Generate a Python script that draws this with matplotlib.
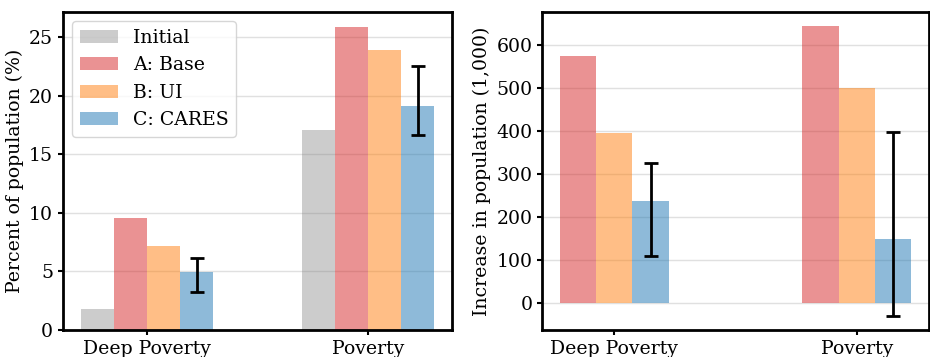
import matplotlib
matplotlib.use("Agg")
import matplotlib.pyplot as plt
import numpy as np

plt.rcParams['font.family'] = 'DejaVu Serif'
plt.rcParams['font.size'] = 13.6

groups = ['Deep Poverty', 'Poverty']

# left panel: percent of population
pct_initial = [1.8, 17.05]
pct_base = [9.55, 25.85]
pct_ui = [7.13, 23.9]
pct_cares = [4.96, 19.1]
pct_cares_lo = [3.25, 16.68]
pct_cares_hi = [6.18, 22.5]

# right panel: increase in population (1,000)
inc_base = [573, 642]
inc_ui = [395, 499]
inc_cares = [236, 148]
inc_cares_lo = [109, -29]
inc_cares_hi = [325, 397]

labels = ['Initial', 'A: Base', 'B: UI', 'C: CARES']
colors = ['gray', 'tab:red', 'tab:orange', 'tab:blue']

fig = plt.figure(figsize=(9.3, 3.57), dpi=100)
ax1 = fig.add_axes([0.0677, 0.0756, 0.4183, 0.8908])
ax2 = fig.add_axes([0.5828, 0.0756, 0.4161, 0.8908])

w = 0.15
x = np.arange(len(groups))

ax1.bar(x - 1.5 * w, pct_initial, w, color=colors[0], alpha=0.4, label=labels[0])
ax1.bar(x - 0.5 * w, pct_base, w, color=colors[1], alpha=0.5, label=labels[1])
ax1.bar(x + 0.5 * w, pct_ui, w, color=colors[2], alpha=0.5, label=labels[2])
ax1.bar(x + 1.5 * w, pct_cares, w, color=colors[3], alpha=0.5, label=labels[3])
err1 = [np.array(pct_cares) - np.array(pct_cares_lo), np.array(pct_cares_hi) - np.array(pct_cares)]
ax1.errorbar(x + 1.5 * w, pct_cares, yerr=err1, fmt='none', ecolor='black',
             elinewidth=2, capsize=5, capthick=2)
ax1.set_ylabel('Percent of population (%)')
ax1.legend(loc='upper left')

ax2.bar(x - w, inc_base, w, color=colors[1], alpha=0.5)
ax2.bar(x, inc_ui, w, color=colors[2], alpha=0.5)
ax2.bar(x + w, inc_cares, w, color=colors[3], alpha=0.5)
err2 = [np.array(inc_cares) - np.array(inc_cares_lo), np.array(inc_cares_hi) - np.array(inc_cares)]
ax2.errorbar(x + w, inc_cares, yerr=err2, fmt='none', ecolor='black',
             elinewidth=2, capsize=5, capthick=2)
ax2.set_ylabel('Increase in population (1,000)')

for ax in (ax1, ax2):
    ax.set_xticks(x)
    ax.set_xticklabels(groups)
    ax.yaxis.grid(True, color='#e0e0e0', linewidth=1)
    ax.set_axisbelow(True)
    ax.tick_params(width=1.5)
    for s in ax.spines.values():
        s.set_linewidth(2)

fig.savefig('out.png', dpi=100)
